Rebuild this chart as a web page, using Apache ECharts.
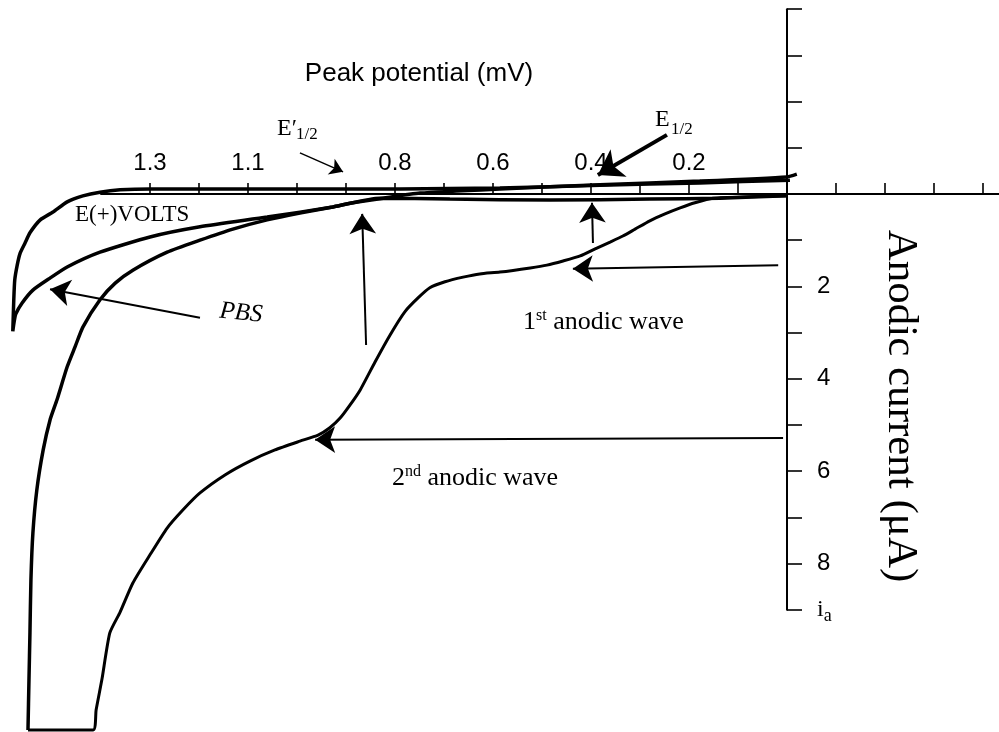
<!DOCTYPE html>
<html>
<head>
<meta charset="utf-8">
<title>Anodic waves</title>
<script src="https://cdn.jsdelivr.net/npm/echarts@6.0.0/dist/echarts.min.js"></script>
<style>
  html, body { margin: 0; padding: 0; background: #fff; }
  #chart { width: 999px; height: 732px; }
</style>
</head>
<body>
<div id="chart"></div>
<script>
// potential E (V), anodic current i (uA); E grows to the left, i grows downward
var pbsLoop = [
  [-0.006, -0.30], [0.178, -0.24], [0.382, -0.19], [0.586, -0.13], [0.790, -0.11],
  [0.994, -0.11], [1.198, -0.11], [1.300, -0.11], [1.361, -0.09], [1.402, -0.04],
  [1.437, 0.04], [1.469, 0.17], [1.498, 0.39], [1.524, 0.56], [1.545, 0.84],
  [1.555, 1.06], [1.565, 1.28], [1.571, 1.54], [1.576, 1.86], [1.578, 2.29],
  [1.580, 2.97], [1.577, 2.75], [1.574, 2.60], [1.561, 2.36], [1.539, 2.08],
  [1.504, 1.82], [1.469, 1.58], [1.402, 1.26], [1.300, 0.93], [1.198, 0.71],
  [1.061, 0.50], [0.927, 0.28], [0.831, 0.09], [0.688, 0.11], [0.484, 0.13],
  [0.280, 0.11], [0.137, 0.09], [0.0, 0.04]
];
var sampleForward = [
  [0.0, 0.04], [0.076, 0.06], [0.151, 0.09], [0.188, 0.19], [0.218, 0.30],
  [0.249, 0.43], [0.280, 0.58], [0.310, 0.76], [0.335, 0.91], [0.361, 1.04],
  [0.388, 1.17], [0.422, 1.34], [0.457, 1.45], [0.490, 1.54], [0.524, 1.60],
  [0.586, 1.69], [0.627, 1.73], [0.661, 1.80], [0.698, 1.90], [0.729, 2.03],
  [0.753, 2.25], [0.780, 2.55], [0.810, 3.05], [0.841, 3.64], [0.871, 4.24],
  [0.892, 4.57], [0.912, 4.85], [0.933, 5.06], [0.957, 5.22], [0.994, 5.35],
  [1.045, 5.54], [1.096, 5.78], [1.147, 6.08], [1.198, 6.47], [1.233, 6.84],
  [1.265, 7.23], [1.300, 7.81], [1.335, 8.42], [1.361, 9.05], [1.382, 9.50],
  [1.398, 10.50], [1.410, 11.17], [1.416, 11.60], [1.549, 11.60]
];
var sampleReturn = [
  [1.549, 11.60], [1.547, 10.52], [1.545, 9.50], [1.543, 8.35], [1.539, 7.34],
  [1.531, 6.41], [1.518, 5.54], [1.504, 4.89], [1.490, 4.46], [1.469, 3.74],
  [1.453, 3.31], [1.437, 2.88], [1.402, 2.29], [1.371, 1.93], [1.335, 1.65],
  [1.265, 1.26], [1.198, 1.00], [1.131, 0.76], [1.061, 0.56], [0.994, 0.41],
  [0.927, 0.28], [0.886, 0.19], [0.824, 0.09], [0.749, -0.02], [0.586, -0.11],
  [0.382, -0.20], [0.178, -0.28], [0.0, -0.37], [-0.020, -0.43]
];
// annotation arrows: [from, to]
var arrowsThin = [
  [[0.018, 1.54], [0.437, 1.62]],
  [[0.008, 5.28], [0.963, 5.32]],
  [[0.859, 3.27], [0.867, 0.43]],
  [[0.396, 1.06], [0.398, 0.19]],
  [[1.198, 2.68], [1.504, 2.06]]
];
var arrowsSmall = [
  [[0.994, -0.89], [0.906, -0.48]]
];
var arrowsThick = [
  [[0.245, -1.28], [0.386, -0.41]]
];
var xTicks = [-0.4, -0.3, -0.2, -0.1, 0.1, 0.2, 0.3, 0.4, 0.5, 0.6, 0.7, 0.8, 0.9, 1.0, 1.1, 1.2, 1.3];
var xLabels = [1.3, 1.1, 0.8, 0.6, 0.4, 0.2];
var yTicks = [-4, -3, -2, -1, 1, 2, 3, 4, 5, 6, 7, 8, 9];
var yLabels = [2, 4, 6, 8, 9];

// layout: pixel of E=0 / i=0 and pixels per unit
var W = 999, H = 732;
var X0 = 787, XS = 490;
var Y0 = 194, YS = 46.2;
var xMin = -(W - X0) / XS, xMax = X0 / XS;
var yMin = -Y0 / YS, yMax = (H - Y0) / YS;
var axisXMax = 1.4, axisYMin = -4, axisYMax = 9;

var SANS = '"Liberation Sans", Arial, sans-serif';
var SERIF = '"Liberation Serif", "Times New Roman", serif';

function toLines(list) {
  return list.map(function (a) { return { coords: a }; });
}
function curve(data, w) {
  return {
    type: 'line', data: data, showSymbol: false, smooth: 0.2, silent: true,
    lineStyle: { color: '#000', width: w }
  };
}
function arrows(list, w, size) {
  return {
    type: 'lines', coordinateSystem: 'cartesian2d', silent: true,
    symbol: ['none', 'arrow'], symbolSize: size,
    lineStyle: { color: '#000', width: w, opacity: 1 },
    data: toLines(list)
  };
}
function txt(x, y, text, size, family, extra) {
  var el = {
    type: 'text', x: x, y: y, silent: true,
    style: { text: text, fontSize: size, fontFamily: family, fill: '#000',
             textAlign: 'left', textVerticalAlign: 'middle' }
  };
  if (extra) {
    for (var k in extra.style || {}) el.style[k] = extra.style[k];
    if (extra.rotation !== undefined) el.rotation = extra.rotation;
  }
  return el;
}
var hidden = { show: false };

var chart = echarts.init(document.getElementById('chart'));
chart.setOption({
  animation: false,
  backgroundColor: '#fff',
  grid: [
    // plot area (whole canvas)
    { left: 0, right: 0, top: 0, bottom: 0, outerBoundsMode: 'none', containLabel: false },
    // potential axis: top edge at i = 0
    { left: X0 - axisXMax * XS, right: 0, top: Y0, height: 20, outerBoundsMode: 'none', containLabel: false },
    // current axis: right edge at E = 0
    { left: X0 - 20, right: W - X0, top: Y0 + axisYMin * YS, bottom: H - (Y0 + axisYMax * YS),
      outerBoundsMode: 'none', containLabel: false }
  ],
  xAxis: [
    { gridIndex: 0, type: 'value', inverse: true, min: xMin, max: xMax, show: false },
    {
      gridIndex: 1, type: 'value', inverse: true, min: xMin, max: axisXMax, position: 'top',
      axisLine: { onZero: false, lineStyle: { color: '#000', width: 2 } },
      axisTick: { customValues: xTicks, length: 11, lineStyle: { color: '#000', width: 1.6 } },
      axisLabel: {
        customValues: xLabels, margin: 19, color: '#000', fontSize: 24, fontFamily: SANS,
        formatter: function (v) { return v.toFixed(1); }
      },
      splitLine: hidden
    },
    { gridIndex: 2, type: 'value', min: 0, max: 1, show: false }
  ],
  yAxis: [
    { gridIndex: 0, type: 'value', inverse: true, min: yMin, max: yMax, show: false },
    { gridIndex: 1, type: 'value', min: 0, max: 1, show: false },
    {
      gridIndex: 2, type: 'value', inverse: true, min: axisYMin, max: axisYMax, position: 'right',
      axisLine: { onZero: false, lineStyle: { color: '#000', width: 2 } },
      axisTick: { customValues: yTicks, length: 15, lineStyle: { color: '#000', width: 1.6 } },
      axisLabel: {
        customValues: yLabels, margin: 30, color: '#000', fontSize: 24, fontFamily: SANS,
        formatter: function (v) { return v === 9 ? '{i|i}{a|a}' : String(v); },
        rich: {
          i: { fontSize: 24, fontFamily: SERIF, color: '#000', lineHeight: 30 },
          a: { fontSize: 18, fontFamily: SERIF, color: '#000', verticalAlign: 'bottom' }
        }
      },
      splitLine: hidden
    }
  ],
  series: [
    curve(pbsLoop, 3.5),
    curve(sampleForward, 3),
    curve(sampleReturn, 3.5),
    arrows(arrowsThin, 2, [10, 20]),
    arrows(arrowsSmall, 1.5, [7, 13]),
    arrows(arrowsThick, 4, [14, 24])
  ],
  graphic: [
    txt(419, 74, 'Peak potential (mV)', 26, SANS, { style: { textAlign: 'center' } }),
    txt(277, 128.5, 'E\u2032', 24, SERIF),
    txt(296, 135, '1/2', 17, SERIF),
    txt(655, 119.5, 'E', 24, SERIF),
    txt(671, 130, '1/2', 17, SERIF),
    txt(75, 215, 'E(+)VOLTS', 23, SERIF),
    txt(241, 313, 'PBS', 25, SERIF, { style: { textAlign: 'center', fontStyle: 'italic' }, rotation: -0.1 }),
    txt(523, 322.5, '{n|1}{s|st}{n| anodic wave}', 26, SERIF, { style: { rich: {
      n: { fontSize: 26, fontFamily: SERIF, lineHeight: 30 },
      s: { fontSize: 16, fontFamily: SERIF, verticalAlign: 'top' }
    } } }),
    txt(392, 478.5, '{n|2}{s|nd}{n| anodic wave}', 26, SERIF, { style: { rich: {
      n: { fontSize: 26, fontFamily: SERIF, lineHeight: 30 },
      s: { fontSize: 16, fontFamily: SERIF, verticalAlign: 'top' }
    } } }),
    txt(900, 406, 'Anodic current (\u03bcA)', 43, SERIF, { style: { textAlign: 'center' }, rotation: -Math.PI / 2 })
  ]
});
</script>
</body>
</html>
